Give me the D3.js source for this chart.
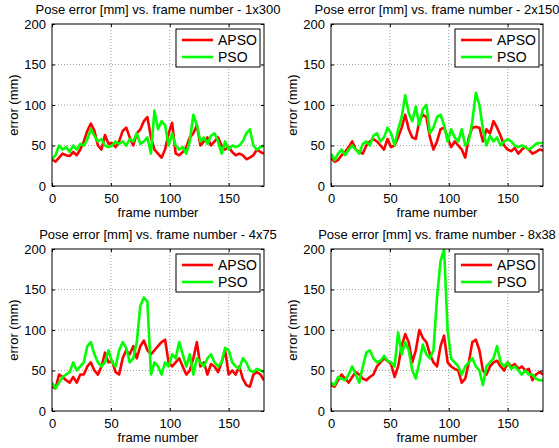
<!DOCTYPE html>
<html lang="en">
<head>
<meta charset="UTF-8">
<script src="https://cdn.jsdelivr.net/npm/d3@7"></script>
<style>
  body { margin: 0; background: #fff; }
  svg text { font-family: "Liberation Sans", Arial, Helvetica, sans-serif; fill: #000; }
</style>
</head>
<body>
<svg id="main_svg" width="559" height="448"></svg>
<script>
// frame index (every 3rd frame)
var frames = [0,3,6,9,12,15,18,21,24,27,30,33,36,39,42,45,48,51,54,57,60,63,66,69,72,75,78,81,84,87,
  90,93,96,99,102,105,108,111,114,117,120,123,126,129,132,135,138,141,144,147,150,153,156,159,162,165,168,171,174,177,180];

var apso1 = [33,30,35,40,38,37,42,38,45,55,68,77,68,50,45,63,52,53,48,55,68,72,60,50,65,70,80,85,60,45,
  40,35,45,65,78,40,38,42,48,60,65,75,50,55,60,50,55,60,50,45,48,42,38,40,38,33,35,38,45,42,40];
var pso1 = [33,38,50,45,48,42,50,45,52,50,58,70,62,55,58,50,48,50,55,52,55,50,58,55,65,52,55,60,40,93,
  70,80,75,50,65,50,45,48,40,55,88,75,55,60,52,62,65,55,40,55,45,50,48,50,55,65,70,50,45,48,50];

var apso2 = [35,30,32,38,42,48,55,45,42,40,50,55,58,55,50,45,58,48,50,60,72,88,70,60,58,80,88,85,60,45,
  55,70,72,60,48,55,50,45,35,60,72,73,72,55,70,65,80,72,62,50,45,43,47,40,45,48,45,40,42,45,44];
var pso2 = [40,32,40,45,38,45,50,45,40,52,55,50,62,65,55,60,72,65,50,70,85,112,90,80,98,75,95,100,65,72,
  85,88,75,55,70,60,55,70,50,55,80,115,100,70,50,62,55,60,50,55,58,55,50,48,50,48,45,48,52,53,53];

var apso3 = [30,28,45,42,38,35,42,35,45,45,55,60,50,45,55,72,60,62,48,45,65,75,70,80,65,80,87,75,70,75,
  80,85,88,60,55,60,65,55,45,50,65,85,55,60,45,58,55,48,60,75,45,50,45,55,40,32,30,45,48,45,38];
var pso3 = [35,28,35,42,45,48,60,50,55,60,80,85,70,60,55,60,75,60,55,75,85,78,60,65,85,130,140,135,45,60,
  55,45,60,55,70,65,85,70,55,70,45,65,60,55,65,70,60,55,60,78,75,60,55,52,65,60,50,48,52,50,48];

var apso4 = [32,30,38,45,40,35,42,48,45,40,38,42,45,55,60,65,62,58,42,55,80,95,85,60,75,100,90,85,70,60,
  55,80,93,60,55,52,50,35,40,60,85,88,75,50,45,55,60,62,55,50,60,55,58,52,55,50,52,38,45,48,45];
var pso4 = [35,32,42,40,38,45,55,45,35,55,72,75,65,60,62,68,62,60,55,97,70,85,75,50,40,60,82,70,65,75,
  140,185,200,100,65,60,55,45,55,60,65,55,50,32,55,60,65,80,60,55,60,52,55,50,45,50,45,45,40,38,38];

var titles = ["Pose error [mm] vs. frame number - 1x300", "Pose error [mm] vs. frame number - 2x150",
  "Pose error [mm] vs. frame number - 4x75", "Pose error [mm] vs. frame number - 8x38"];
var xTicks = [0, 50, 100, 150];
var yTicks = [0, 50, 100, 150, 200];
var seriesNames = ["APSO", "PSO"];
var seriesColors = ["#ff0000", "#00ff00"];

var panels = [
  { title: titles[0], apso: apso1, pso: pso1, left: 52, top: 24 },
  { title: titles[1], apso: apso2, pso: pso2, left: 331, top: 24 },
  { title: titles[2], apso: apso3, pso: pso3, left: 52, top: 249 },
  { title: titles[3], apso: apso4, pso: pso4, left: 331, top: 249 }
];
var W = 212, H = 162;

var svg = d3.select("#main_svg");

panels.forEach(function (p, k) {
  var g = svg.append("g").attr("transform", "translate(" + p.left + "," + p.top + ")");
  var x = d3.scaleLinear().domain([0, 180]).range([0, W]);
  var y = d3.scaleLinear().domain([0, 200]).range([H, 0]);

  // grid
  g.append("g").selectAll("line.gx").data(xTicks.slice(1)).enter().append("line")
    .attr("x1", d => x(d)).attr("x2", d => x(d)).attr("y1", 0).attr("y2", H)
    .attr("stroke", "#a0a0a0").attr("stroke-width", 1).attr("stroke-dasharray", "1,2");
  g.append("g").selectAll("line.gy").data(yTicks.slice(1, -1)).enter().append("line")
    .attr("x1", 0).attr("x2", W).attr("y1", d => y(d)).attr("y2", d => y(d))
    .attr("stroke", "#a0a0a0").attr("stroke-width", 1).attr("stroke-dasharray", "1,2");

  g.append("clipPath").attr("id", "clip" + k).append("rect").attr("width", W).attr("height", H);

  var line = d3.line().x((d, i) => x(frames[i])).y(d => y(d));
  [p.apso, p.pso].forEach(function (vals, s) {
    g.append("path").datum(vals)
      .attr("clip-path", "url(#clip" + k + ")")
      .attr("fill", "none").attr("stroke", seriesColors[s]).attr("stroke-width", 2.6)
      .attr("stroke-linejoin", "round")
      .attr("d", line);
  });

  // axes (ticks inside)
  g.append("g").attr("transform", "translate(0," + H + ")")
    .call(d3.axisBottom(x).tickValues(xTicks).tickSizeInner(-3).tickSizeOuter(0).tickPadding(8))
    .call(a => a.select(".domain").remove())
    .selectAll("text").attr("font-size", 13).attr("font-family", null);
  g.append("g")
    .call(d3.axisLeft(y).tickValues(yTicks).tickSizeInner(-3).tickSizeOuter(0).tickPadding(6))
    .call(a => a.select(".domain").remove())
    .selectAll("text").attr("font-size", 13).attr("font-family", null);
  g.append("g")
    .call(d3.axisTop(x).tickValues(xTicks).tickSizeInner(-3).tickSizeOuter(0).tickFormat(""))
    .call(a => a.select(".domain").remove());
  g.append("g").attr("transform", "translate(" + W + ",0)")
    .call(d3.axisRight(y).tickValues(yTicks).tickSizeInner(-3).tickSizeOuter(0).tickFormat(""))
    .call(a => a.select(".domain").remove());

  g.append("rect").attr("width", W).attr("height", H)
    .attr("fill", "none").attr("stroke", "#000").attr("stroke-width", 1);

  // labels
  g.append("text").attr("x", W / 2).attr("y", -10).attr("text-anchor", "middle")
    .attr("font-size", 13).text(p.title);
  g.append("text").attr("x", W / 2).attr("y", H + 31).attr("text-anchor", "middle")
    .attr("font-size", 13).text("frame number");
  g.append("text").attr("transform", "translate(-34," + (H / 2) + ") rotate(-90)")
    .attr("text-anchor", "middle").attr("font-size", 13).text("error (mm)");

  // legend
  var lg = g.append("g").attr("transform", "translate(" + (W - 88) + ",5)");
  lg.append("rect").attr("width", 84).attr("height", 38)
    .attr("fill", "#fff").attr("stroke", "#000").attr("stroke-width", 1);
  seriesNames.forEach(function (name, s) {
    var yy = 11 + s * 17;
    lg.append("line").attr("x1", 6).attr("x2", 37).attr("y1", yy).attr("y2", yy)
      .attr("stroke", seriesColors[s]).attr("stroke-width", 2.6);
    lg.append("text").attr("x", 42).attr("y", yy + 5).attr("font-size", 14).text(name);
  });
});
</script>
</body>
</html>
